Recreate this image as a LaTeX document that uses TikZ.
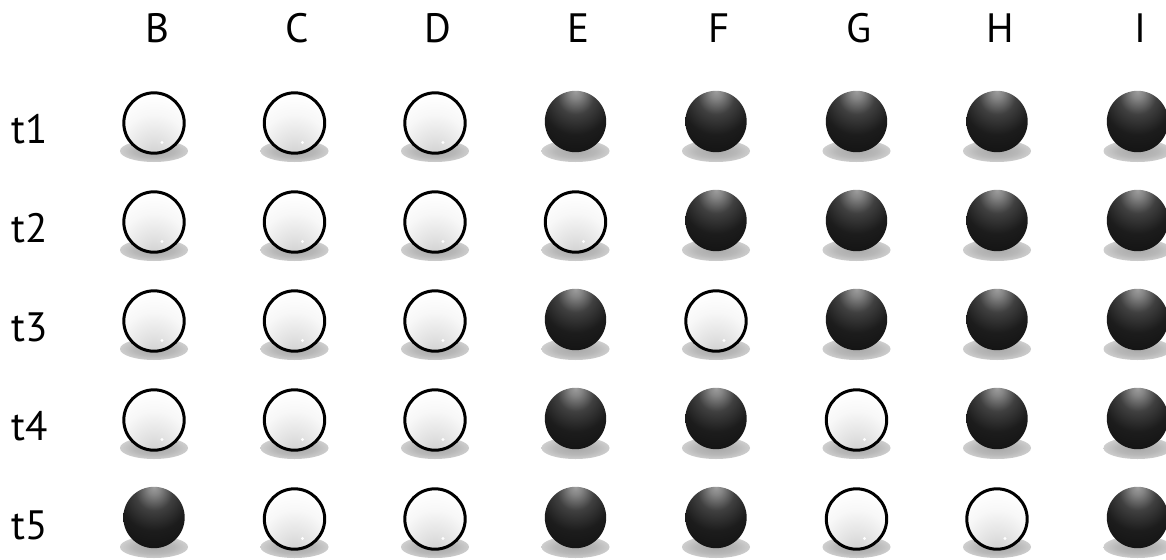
\documentclass[tikz,border=0pt]{standalone}
\usepackage{fontspec}
\setmainfont{PT Sans}
\pgfdeclareradialshading{wbshade}{\pgfpoint{0bp}{-30bp}}{color(0bp)=(black!20); color(12bp)=(black!12); color(28bp)=(black!3); color(40bp)=(white); color(90bp)=(white)}
\pgfdeclareradialshading{kbshade}{\pgfpoint{0bp}{25bp}}{color(0bp)=(black!38); color(5bp)=(black!48); color(15bp)=(black!75); color(28bp)=(black!89); color(50bp)=(black!95); color(66bp)=(black!93); color(75bp)=(black!75); color(90bp)=(black!75)}
\pgfdeclareradialshading{shadshade}{\pgfpoint{0bp}{0bp}}{color(0bp)=(black!34); color(15bp)=(black!28); color(30bp)=(black!15); color(42bp)=(black!4); color(50bp)=(white); color(80bp)=(white)}
\tikzset{
  ballbase/.style={circle, inner sep=0pt, outer sep=0pt},
  wball/.style={ballbase, minimum size=60.4pt, draw=black, line width=3pt, shading=wbshade,
    path picture={\fill[white] ([shift={(8pt,-19.5pt)}]path picture bounding box.center) circle[radius=1.7pt];}},
  kball/.style={ballbase, minimum size=61.4pt, shading=kbshade},
  lab/.style={font=\fontsize{41}{48}\selectfont, inner sep=0pt, text=black},
}
\begin{document}
\begin{tikzpicture}[x=1pt,y=-1pt]
\useasboundingbox[fill=white] (0,0) rectangle (1166,559);
% column labels
\foreach \c [count=\i] in {B,C,D,E,F,G,H,I}{
  \pgfmathsetmacro{\xx}{154+140.5*(\i-1)+3}
  \node[lab, anchor=base] (col\c) at (\xx,43) {\c};
}
% rows
\foreach \r/\pat in {1/{0,0,0,1,1,1,1,1},2/{0,0,0,0,1,1,1,1},3/{0,0,0,1,0,1,1,1},4/{0,0,0,1,1,0,1,1},5/{1,0,0,1,1,0,0,1}}{
  \pgfmathsetmacro{\yy}{123+99*(\r-1)}
  \pgfmathsetmacro{\yb}{\yy+20}
  \node[lab, anchor=base west] (row\r) at (11,\yb) {t\r};
  \foreach \k [count=\i] in \pat{
    \pgfmathsetmacro{\xx}{154+140.5*(\i-1)}
    \pgfmathsetmacro{\ys}{\yy+28}
    \shade[shading=shadshade] (\xx,\ys) ellipse [x radius=34, y radius=11];
    \ifnum\k=1
      \pgfmathsetmacro{\yk}{\yy-1.5}
      \node[kball] (b\r-\i) at (\xx,\yk) {};
    \else
      \node[wball] (b\r-\i) at (\xx,\yy) {};
    \fi
  }
}
\end{tikzpicture}
\end{document}
